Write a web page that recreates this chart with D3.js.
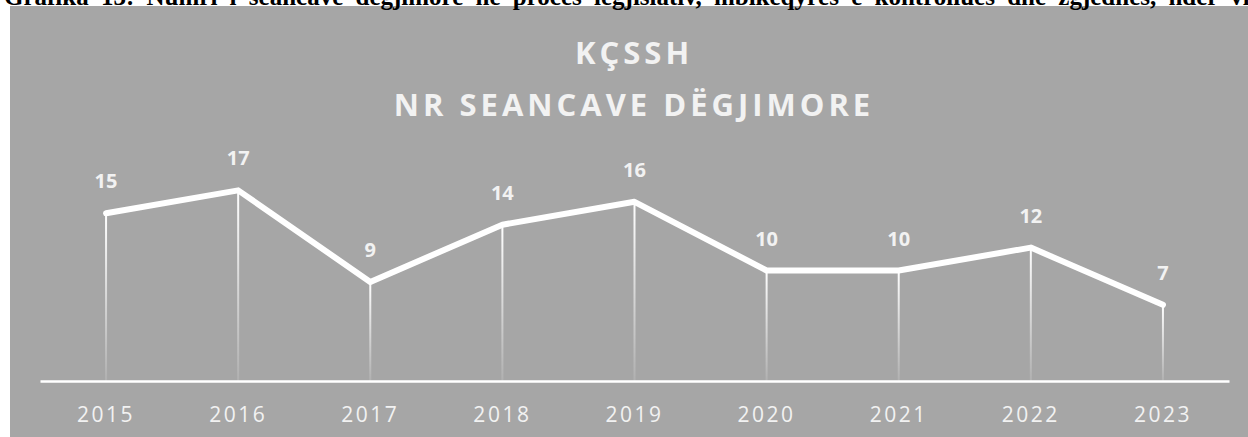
<!DOCTYPE html>
<html>
<head>
<meta charset="utf-8">
<script src="https://cdn.jsdelivr.net/npm/d3@7"></script>
<style>
  body { margin: 0; background: #fff; }
  svg { display: block; }
</style>
</head>
<body>
<script>
// data
var years = ["2015", "2016", "2017", "2018", "2019", "2020", "2021", "2022", "2023"];
var seancat = [15, 17, 9, 14, 16, 10, 10, 12, 7];
var titleLines = ["KÇSSH", "NR SEANCAVE DËGJIMORE"];
var caption = "Grafika 13: Numri i seancave dëgjimore në proces legjislativ, mbikëqyrës e kontrollues dhe zgjedhës, ndër vite";

var width = 1248,
    height = 437;

var svg = d3.select("body").append("svg")
  .attr("width", width)
  .attr("height", height);

// grey chart area
svg.append("rect")
  .attr("x", 10)
  .attr("y", 6)
  .attr("width", width - 10)
  .attr("height", height - 6)
  .attr("fill", "#a6a6a6");

// caption above the chart, only its lower edge shows (as in the original page)
svg.append("text")
  .attr("x", 4)
  .attr("y", 5)
  .attr("font-family", "'Liberation Serif', serif")
  .attr("font-weight", "bold")
  .attr("font-size", 25)
  .attr("word-spacing", 6)
  .attr("fill", "#000")
  .text(caption);

var defs = svg.append("defs");
var grad = defs.append("linearGradient")
  .attr("id", "drop")
  .attr("x1", 0).attr("y1", 0)
  .attr("x2", 0).attr("y2", 1);
grad.append("stop").attr("offset", "0%").attr("stop-color", "#ffffff").attr("stop-opacity", 1);
grad.append("stop").attr("offset", "100%").attr("stop-color", "#ffffff").attr("stop-opacity", 0.12);

var x = d3.scaleBand()
  .domain(years)
  .range([40, 1229]);

var y = d3.scaleLinear()
  .domain([0, 20])
  .range([385, 156]);

var axisY = 381;

// title
svg.selectAll(".title")
  .data(titleLines)
  .enter()
.append("text")
  .attr("class", "title")
  .attr("x", 634)
  .attr("y", function(d, i) { return 64 + i * 52; })
  .attr("text-anchor", "middle")
  .attr("font-family", "'Open Sans', sans-serif")
  .attr("font-weight", "bold")
  .attr("font-size", 31)
  .attr("letter-spacing", 4)
  .attr("fill", "#f2f2f2")
  .text(function(d) { return d; });

// drop lines
svg.append("g")
  .selectAll("rect")
  .data(seancat)
  .enter()
.append("rect")
  .attr("x", function(d, i) { return x(years[i]) + x.bandwidth() / 2 - 1; })
  .attr("y", function(d) { return y(d); })
  .attr("width", 2)
  .attr("height", function(d) { return axisY - y(d); })
  .attr("fill", "url(#drop)");

// axis
var axis = svg.append("g")
  .attr("transform", "translate(0," + axisY + ")")
  .call(d3.axisBottom(x).tickSize(0).tickPadding(26));
axis.select(".domain")
  .attr("stroke", "#ffffff")
  .attr("stroke-width", 2.5);
axis.selectAll("text")
  .attr("font-family", "'Open Sans', sans-serif")
  .attr("font-size", 21)
  .attr("letter-spacing", 2.5)
  .attr("fill", "#f2f2f2");

// the line
var line = d3.line()
  .x(function(d, i) { return x(years[i]) + x.bandwidth() / 2; })
  .y(function(d) { return y(d); });

svg.append("path")
  .datum(seancat)
  .attr("d", line)
  .attr("fill", "none")
  .attr("stroke", "#ffffff")
  .attr("stroke-width", 6)
  .attr("stroke-linejoin", "round")
  .attr("stroke-linecap", "round");

// value labels
svg.append("g")
  .selectAll("text")
  .data(seancat)
  .enter()
.append("text")
  .attr("x", function(d, i) { return x(years[i]) + x.bandwidth() / 2; })
  .attr("y", function(d) { return y(d) - 25; })
  .attr("text-anchor", "middle")
  .attr("font-family", "'Open Sans', sans-serif")
  .attr("font-weight", "bold")
  .attr("font-size", 20)
  .attr("fill", "#f2f2f2")
  .text(function(d) { return d; });
</script>
</body>
</html>
